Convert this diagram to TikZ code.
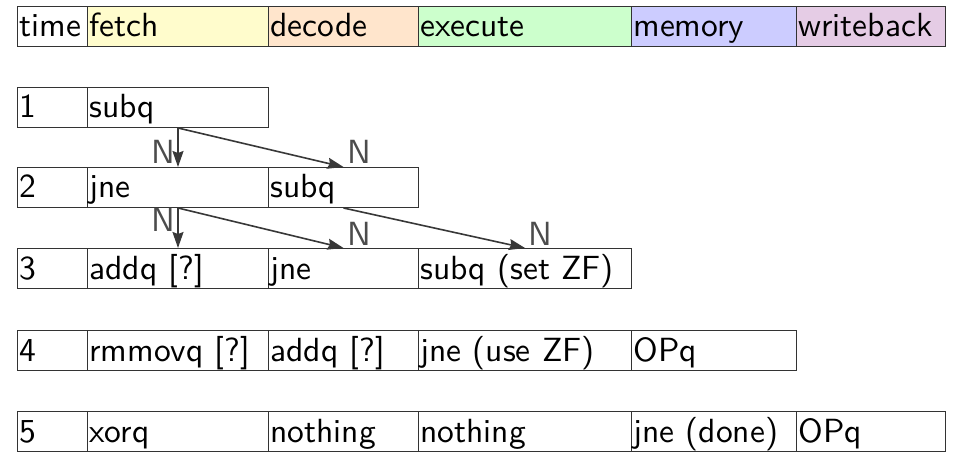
\documentclass[tikz,border=0pt]{standalone}
\usepackage{fontspec}
\usetikzlibrary{arrows.meta,calc}

% sans face at its 10pt design size, scaled up
\newfontfamily\cellfont{lmsans10-regular.otf}

\tikzset{
  cell/.style={draw=black!80, line width=1pt, anchor=south west,
    minimum height=40, inner xsep=2, inner ysep=0,
    text height=26, text depth=5, align=left,
    font=\cellfont\fontsize{33.5}{36}\selectfont},
  colT/.style={cell, text width=66},
  colF/.style={cell, text width=177},
  colD/.style={cell, text width=146},
  colE/.style={cell, text width=209},
  colM/.style={cell, text width=161},
  colW/.style={cell, text width=145},
  flow/.style={draw=black!78, line width=1.6pt,
    -{Stealth[length=16pt, width=11pt, inset=2pt]}},
  lbl/.style={inner sep=0, text=black!70,
    font=\cellfont\fontsize{33.5}{36}\selectfont},
}

\begin{document}
\begin{tikzpicture}[x=1pt, y=1pt]
  \useasboundingbox (0,0) rectangle (953,453);

  % stage header
  \node[colT] (ht) at (17,406) {time};
  \node[colF, fill=yellow!20] (hf) at (87,406) {fetch};
  \node[colD, fill=orange!20] (hd) at (268,406) {decode};
  \node[colE, fill=green!20] (he) at (418,406) {execute};
  \node[colM, fill=blue!20] (hm) at (631,406) {memory};
  \node[colW, fill=violet!20] (hw) at (796,406) {writeback};

  % cycle 1
  \node[colT] (t1) at (17,325) {1};
  \node[colF] (f1) at (87,325) {subq};

  % cycle 2
  \node[colT] (t2) at (17,245) {2};
  \node[colF] (f2) at (87,245) {jne};
  \node[colD] (d2) at (268,245) {subq};

  % cycle 3
  \node[colT] (t3) at (17,164) {3};
  \node[colF] (f3) at (87,164) {addq [?]};
  \node[colD] (d3) at (268,164) {jne};
  \node[colE] (e3) at (418,164) {subq (set ZF)};

  % cycle 4
  \node[colT] (t4) at (17,82) {4};
  \node[colF] (f4) at (87,82) {rmmovq [?]};
  \node[colD] (d4) at (268,82) {addq [?]};
  \node[colE] (e4) at (418,82) {jne (use ZF)};
  \node[colM] (m4) at (631,82) {OPq};

  % cycle 5
  \node[colT] (t5) at (17,1) {5};
  \node[colF] (f5) at (87,1) {xorq};
  \node[colD] (d5) at (268,1) {nothing};
  \node[colE] (e5) at (418,1) {nothing};
  \node[colM] (m5) at (631,1) {jne (done)};
  \node[colW] (w5) at (796,1) {OPq};

  % forwarding arrows
  \draw[flow] (f1.south) -- (f2.north);
  \draw[flow] (f1.south) -- (d2.north);
  \draw[flow] (f2.south) -- (f3.north);
  \draw[flow] (f2.south) -- (d3.north);
  \draw[flow] (d2.south) -- (e3.north);

  % arrow labels
  \node[lbl, anchor=base east] (n1) at ($(f2.north)+(-3,3)$) {N};
  \node[lbl, anchor=base west] (n2) at ($(d2.north)+(4,3)$) {N};
  \node[lbl, anchor=base east] (n3) at ($(f3.north)+(-3,16)$) {N};
  \node[lbl, anchor=base west] (n4) at ($(d3.north)+(4,2)$) {N};
  \node[lbl, anchor=base west] (n5) at ($(e3.north)+(3,2)$) {N};
\end{tikzpicture}
\end{document}
